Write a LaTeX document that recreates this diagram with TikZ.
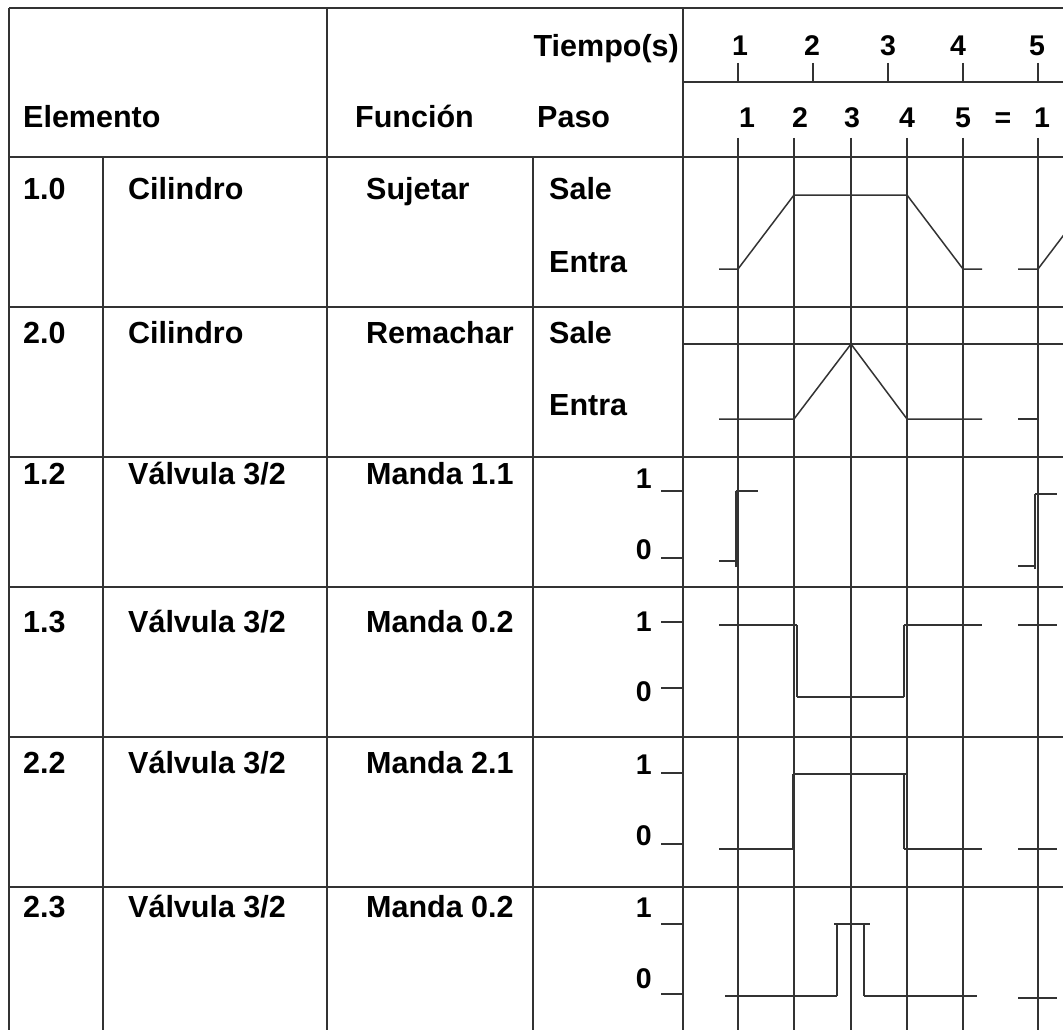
\documentclass[tikz,border=0pt]{standalone}
\usepackage{fontspec}
\setmainfont{Liberation Sans}
\definecolor{lc}{HTML}{333333}
\begin{document}
\begin{tikzpicture}[x=1pt,y=-1pt,
  grid/.style={draw=lc, line width=1.5pt},
  sig/.style={draw=lc, line width=1.5pt},
  sigv/.style={draw=lc, line width=2.2pt},
  txt/.style={anchor=base west, inner sep=0pt, font=\fontsize{30.5}{36}\selectfont\bfseries},
  num/.style={anchor=base, inner sep=0pt, font=\fontsize{28.5}{34}\selectfont\bfseries},
  numr/.style={anchor=base east, inner sep=0pt, font=\fontsize{28.5}{34}\selectfont\bfseries}]
\useasboundingbox (0,0) rectangle (1063,1030);
\clip (0,0) rectangle (1063,1030);
\fill[white] (0,0) rectangle (1063,1030);
% table frame
\draw[grid] (9,8) -- (1063,8);
\draw[grid] (9,8) -- (9,1030);
\draw[grid] (103,157) -- (103,1030);
\draw[grid] (327,8) -- (327,1030);
\draw[grid] (533,157) -- (533,1030);
\draw[grid] (683,8) -- (683,1030);
\draw[grid] (683,82) -- (1063,82);
\foreach \y in {157,307,457,587,737,887} \draw[grid] (9,\y) -- (1063,\y);
\draw[grid] (683,344) -- (1063,344);
% time ticks
\foreach \x in {738,813,888,963,1038} \draw[grid] (\x,63) -- (\x,82);
% step lines
\foreach \x in {738,794,851,907,963,1038} \draw[grid] (\x,138) -- (\x,1030);
% level ticks
\foreach \y in {491,558,622,688,773,844,924,994} \draw[grid] (661,\y) -- (683,\y);
% header texts
\node[txt] (hel) at (23,128) {Elemento};
\node[txt] (hfu) at (355,128) {Función};
\node[txt] (hpa) at (537,128) {Paso};
\node[txt, anchor=base east] (hti) at (679,57) {Tiempo(s)};
\node[num] (t1) at (740,56) {1};
\node[num] (t2) at (812,56) {2};
\node[num] (t3) at (888,56) {3};
\node[num] (t4) at (958,56) {4};
\node[num] (t5) at (1037,56) {5};
\node[num] (p1) at (747,128) {1};
\node[num] (p2) at (800,128) {2};
\node[num] (p3) at (852,128) {3};
\node[num] (p4) at (907,128) {4};
\node[num] (p5) at (963,128) {5};
\node[num] (peq) at (1003,128) {=};
\node[num] (p6) at (1042,128) {1};
% rows
\node[txt] (r1a) at (23,200) {1.0};
\node[txt] (r1b) at (128,200) {Cilindro};
\node[txt] (r1c) at (366,200) {Sujetar};
\node[txt] (r1d) at (549,200) {Sale};
\node[txt] (r1e) at (549,272) {Entra};
\node[txt] (r2a) at (23,343) {2.0};
\node[txt] (r2b) at (128,343) {Cilindro};
\node[txt] (r2c) at (366,343) {Remachar};
\node[txt] (r2d) at (549,343) {Sale};
\node[txt] (r2e) at (549,415) {Entra};
\node[txt] (r3a) at (23,484) {1.2};
\node[txt] (r3b) at (128,484) {Válvula 3/2};
\node[txt] (r3c) at (366,484) {Manda 1.1};
\node[numr] (r3d) at (652,488) {1};
\node[numr] (r3e) at (652,559) {0};
\node[txt] (r4a) at (23,632) {1.3};
\node[txt] (r4b) at (128,632) {Válvula 3/2};
\node[txt] (r4c) at (366,632) {Manda 0.2};
\node[numr] (r4d) at (652,631) {1};
\node[numr] (r4e) at (652,701) {0};
\node[txt] (r5a) at (23,773) {2.2};
\node[txt] (r5b) at (128,773) {Válvula 3/2};
\node[txt] (r5c) at (366,773) {Manda 2.1};
\node[numr] (r5d) at (652,774) {1};
\node[numr] (r5e) at (652,845) {0};
\node[txt] (r6a) at (23,917) {2.3};
\node[txt] (r6b) at (128,917) {Válvula 3/2};
\node[txt] (r6c) at (366,917) {Manda 0.2};
\node[numr] (r6d) at (652,917) {1};
\node[numr] (r6e) at (652,988) {0};
% 1.0 signal
\draw[sig] (719,269) -- (738,269) -- (794,195) -- (907,195) -- (963,269) -- (982,269);
\draw[sig] (1018,269) -- (1038,269) -- (1094,195);
% 2.0 signal
\draw[sig] (719,419) -- (794,419) -- (851,344) -- (907,419) -- (982,419);
\draw[sig] (1018,419) -- (1038,419);
% 1.2 signal
\draw[sig] (719,561) -- (736,561);
\draw[sigv] (736,567) -- (736,491);
\draw[sig] (736,491) -- (758,491);
\draw[sig] (1018,566) -- (1035,566);
\draw[sigv] (1035,569) -- (1035,494);
\draw[sig] (1035,494) -- (1057,494);
% 1.3 signal
\draw[sig] (719,625) -- (797,625);
\draw[sigv] (797,625) -- (797,697);
\draw[sig] (797,697) -- (904,697);
\draw[sigv] (904,697) -- (904,625);
\draw[sig] (904,625) -- (982,625);
\draw[sig] (1018,625) -- (1057,625);
% 2.2 signal
\draw[sig] (719,849) -- (793,849);
\draw[sigv] (793,849) -- (793,774);
\draw[sig] (793,774) -- (906,774);
\draw[sigv] (904,774) -- (904,849);
\draw[sig] (904,849) -- (982,849);
\draw[sig] (1018,849) -- (1057,849);
% 2.3 signal
\draw[sig] (725,996) -- (837,996);
\draw[sig] (837,996) -- (837,924);
\draw[sig] (834,924) -- (870,924);
\draw[sig] (864,924) -- (864,996);
\draw[sig] (864,996) -- (977,996);
\draw[sig] (1018,998) -- (1057,998);
\end{tikzpicture}
\end{document}
